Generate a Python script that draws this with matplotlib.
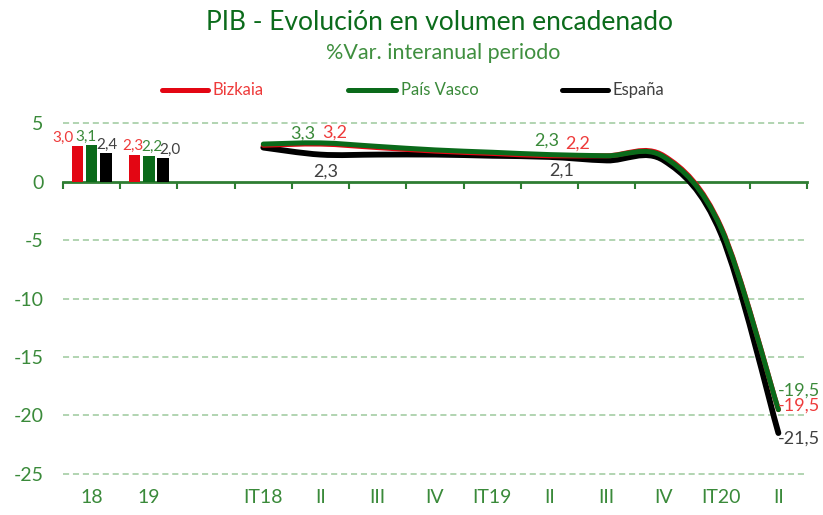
import numpy as np
import matplotlib
matplotlib.use("Agg")
import matplotlib.pyplot as plt
from matplotlib.path import Path
from matplotlib.patches import PathPatch
from matplotlib.lines import Line2D

plt.rcParams["font.family"] = ["Lato", "DejaVu Sans"]

categories = ["18", "19", "", "IT18", "II", "III", "IV", "IT19", "II", "III", "IV", "IT20", "II"]
series = ["Bizkaia", "País Vasco", "España"]

# annual bars (2018, 2019)
annual_bizkaia = [3.0, 2.3]
annual_pv = [3.1, 2.2]
annual_espana = [2.4, 2.0]

# quarterly series, IT18 .. II 2020
quarter_bizkaia = [3.1, 3.2, 2.9, 2.6, 2.4, 2.2, 2.2, 2.2, -3.9, -19.5]
quarter_pv = [3.2, 3.3, 3.0, 2.7, 2.5, 2.3, 2.2, 2.1, -4.0, -19.5]
quarter_espana = [2.9, 2.3, 2.3, 2.3, 2.2, 2.1, 1.8, 1.8, -4.5, -21.5]

line_colors = ["#E30613", "#0A6A1A", "#000000"]
text_colors = ["#EE3B3B", "#3A8A3A", "#404040"]
axis_green = "#2E7D32"


def smooth_path(xs, ys):
    # excel-like smoothed line: cubic bezier segments through the points
    pts = np.column_stack([xs, ys]).astype(float)
    ext = np.vstack([pts[0], pts, pts[-1]])
    verts = [pts[0]]
    codes = [Path.MOVETO]
    for i in range(1, len(ext) - 2):
        p0, p1, p2, p3 = ext[i - 1], ext[i], ext[i + 1], ext[i + 2]
        verts += [p1 + (p2 - p0) / 6, p2 - (p3 - p1) / 6, p2]
        codes += [Path.CURVE4] * 3
    return Path(verts, codes)


fig = plt.figure(figsize=(8.23, 5.15), dpi=100)
ax = fig.add_axes([63 / 823, 1 - 477.5 / 515, (807 - 63) / 823, (477.5 - 119.5) / 515])

x = np.arange(len(categories))
ax.set_xlim(-0.5, len(categories) - 0.5)
ax.set_ylim(-25.3, 5.3)

# grid
for yv in [5, -5, -10, -15, -20, -25]:
    ax.axhline(yv, color="#9CC99C", lw=1.1, ls=(0, (4, 2.5)), zorder=0)

# bars
bar_x = x[:2]
w = 0.2
bar_label_dx = [[-10, -1], [-4, 2], [1, 5]]
for k, (vals, off) in enumerate(zip([annual_bizkaia, annual_pv, annual_espana], [-0.25, 0, 0.25])):
    ax.bar(bar_x + off, vals, width=w, color=line_colors[k], zorder=2)
    for j, (xi, v) in enumerate(zip(bar_x + off, vals)):
        ax.annotate(f"{v:.1f}".replace(".", ","), (xi, v), xytext=(bar_label_dx[k][j], 1),
                    textcoords="offset points", ha="center", va="bottom",
                    fontsize=11, color=text_colors[k], zorder=5)

# smoothed lines
qx = x[3:]
order = [2, 0, 1]
qdata = [quarter_bizkaia, quarter_pv, quarter_espana]
widths = [3.6, 3.6, 4.2]
for k in order:
    patch = PathPatch(smooth_path(qx, qdata[k]), fill=False, edgecolor=line_colors[k],
                      lw=widths[k], capstyle="round", joinstyle="round", zorder=3 + order.index(k))
    ax.add_patch(patch)

# data labels on II quarters
label_idx = [1, 5, 9]
offsets = {
    0: [(10, 8), (20, 9), (15, 3)],
    1: [(-13, 7), (-2, 10), (15, 14)],
    2: [(4, -12), (9, -10), (15, -4)],
}
for k in range(3):
    for j, i in enumerate(label_idx):
        v = qdata[k][i]
        ax.annotate(f"{v:.1f}".replace(".", ","), (qx[i], v), xytext=offsets[k][j],
                    textcoords="offset points", ha="center", va="center",
                    fontsize=13, color=text_colors[k], zorder=6)

# axes styling
for s in ["top", "right", "left"]:
    ax.spines[s].set_visible(False)
ax.spines["bottom"].set_position(("data", 0))
ax.spines["bottom"].set_color(axis_green)
ax.spines["bottom"].set_linewidth(2)
ax.spines["bottom"].set_zorder(1)
ax.set_xticks(np.arange(-0.5, len(categories), 1.0))
ax.set_xticklabels([])
ax.tick_params(axis="x", direction="out", length=5, width=1.5, color=axis_green)
ax.set_yticks([5, 0, -5, -10, -15, -20, -25])
ax.set_yticklabels(["5", "0", "-5", "-10", "-15", "-20", "-25"])
ax.tick_params(axis="y", length=0, pad=14, labelsize=14, labelcolor="#3A8A3A")

for xi, lab in zip(x, categories):
    ax.text(xi, -0.055, lab, transform=ax.get_xaxis_transform(), ha="center", va="center",
            fontsize=14, color="#3A8A3A")

# titles
fig.text(440 / 823, 1 - 22 / 515, "PIB - Evolución en volumen encadenado", ha="center", va="center",
         fontsize=19, color="#0B6B1B")
fig.text(443 / 823, 1 - 53 / 515, "%Var. interanual periodo", ha="center", va="center",
         fontsize=15.5, color="#3F8F3F")

# legend
leg_y = 1 - 90 / 515
for (x0, x1, tx), name, lc, tc in zip([(162, 208, 213), (348, 396, 401), (562, 608, 612)],
                                        series, line_colors, text_colors):
    fig.add_artist(Line2D([x0 / 823, x1 / 823], [leg_y, leg_y], color=lc, lw=3.6,
                          solid_capstyle="round", transform=fig.transFigure))
    fig.text(tx / 823, leg_y, name, ha="left", va="center", fontsize=12, color=tc)

fig.savefig("out.png", dpi=100)
